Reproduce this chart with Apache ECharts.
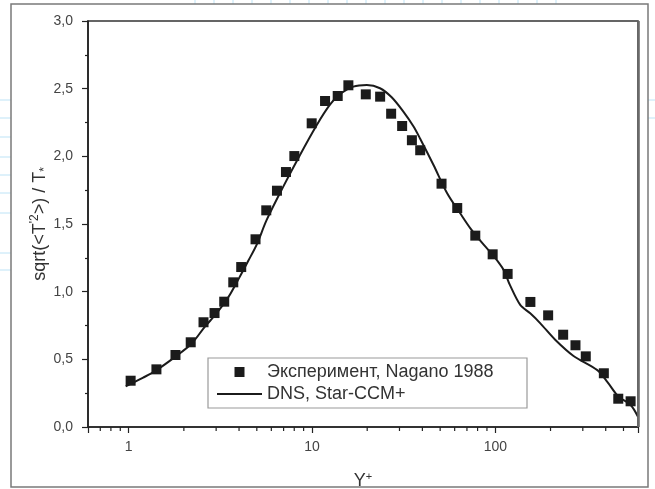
<!DOCTYPE html>
<html>
<head>
<meta charset="utf-8">
<script src="https://cdn.jsdelivr.net/npm/echarts@6/dist/echarts.min.js"></script>
<style>
  html, body { margin: 0; padding: 0; background: #fff; }
  #chart { width: 655px; height: 489px; }
</style>
</head>
<body>
<div id="chart"></div>
<script>
// Эксперимент, Nagano 1988 (Y+, value)
const expPoints = [
  [1.025, 0.342], [1.417, 0.426], [1.80, 0.532], [2.18, 0.626], [2.56, 0.774],
  [2.94, 0.842], [3.32, 0.926], [3.72, 1.069], [4.11, 1.182], [4.92, 1.387],
  [5.63, 1.601], [6.44, 1.746], [7.21, 1.884], [8.01, 2.002], [9.96, 2.244],
  [11.78, 2.409], [13.81, 2.446], [15.79, 2.525], [19.65, 2.458], [23.53, 2.441],
  [27.02, 2.315], [31.02, 2.224], [35.06, 2.119], [38.92, 2.045], [50.88, 1.798],
  [61.97, 1.618], [77.75, 1.414], [96.7, 1.276], [116.7, 1.131], [155.3, 0.924],
  [194.1, 0.825], [234.4, 0.682], [273.6, 0.604], [311.4, 0.522], [390.7, 0.397],
  [468.3, 0.209], [546.8, 0.190]
];

// DNS, Star-CCM+
const dnsLine = [
  [0.963, 0.30], [1.2, 0.365], [1.4, 0.415], [1.8, 0.52], [2.2, 0.615],
  [2.6, 0.74], [3.0, 0.835], [3.5, 0.96], [4.0, 1.1], [4.5, 1.23],
  [5.0, 1.35], [5.66, 1.53], [6.97, 1.776], [8.6, 2.01], [10.6, 2.23],
  [12.5, 2.38], [14.2, 2.46], [16.8, 2.515], [19.9, 2.527], [23.5, 2.503],
  [27.2, 2.436], [31.5, 2.33], [35.8, 2.22], [38.9, 2.13], [46, 1.936],
  [54.6, 1.727], [64.3, 1.579], [73.1, 1.468], [86.6, 1.345], [97, 1.27],
  [111, 1.16], [120, 1.05], [137, 0.90], [155, 0.84], [176, 0.766],
  [212, 0.645], [267, 0.525], [360, 0.42], [410, 0.33], [470, 0.224],
  [547, 0.163], [600, 0.076]
];

// log-axis minor tick positions
const minorTicksX = [0.7, 0.8, 0.9, 2, 3, 4, 5, 6, 7, 8, 9,
  20, 30, 40, 50, 60, 70, 80, 90, 200, 300, 400, 500];

const seriesNames = ['Эксперимент, Nagano 1988', 'DNS, Star-CCM+'];

const chart = echarts.init(document.getElementById('chart'), null, { renderer: 'canvas' });

// light blue paper lines outside the frame
const deco = [];
for (let x = 195; x < 560; x += 19) {
  deco.push({ type: 'line', shape: { x1: x, y1: 0, x2: x, y2: 4 }, style: { stroke: '#bde3f6', lineWidth: 1 }, silent: true });
}
[100, 118, 137, 157, 175, 193, 213, 253, 270].forEach(y => {
  deco.push({ type: 'line', shape: { x1: 0, y1: y, x2: 11, y2: y }, style: { stroke: '#bde3f6', lineWidth: 1 }, silent: true });
});
[100, 118].forEach(y => {
  deco.push({ type: 'line', shape: { x1: 648, y1: y, x2: 655, y2: y }, style: { stroke: '#bde3f6', lineWidth: 1 }, silent: true });
});

const axisColor = '#222';
const labelColor = '#444';
const fontFamily = '"Liberation Sans", Arial, sans-serif';

chart.setOption({
  animation: false,
  backgroundColor: '#fff',
  textStyle: { fontFamily },
  graphic: deco.concat([
    {
      // outer frame
      type: 'rect',
      shape: { x: 11, y: 4, width: 637, height: 483 },
      style: { fill: 'none', stroke: '#7a7a7a', lineWidth: 1.5 },
      silent: true,
      z: 100
    },
    {
      // legend box
      type: 'rect',
      shape: { x: 208, y: 358, width: 319, height: 50 },
      style: { fill: '#fff', stroke: '#9a9a9a', lineWidth: 1.2 },
      silent: true,
      z: 5
    },
    {
      // y axis title
      type: 'text',
      x: 40,
      y: 224,
      rotation: Math.PI / 2,
      silent: true,
      style: {
        text: "sqrt(<T{s|'2}>) / T{d|*}",
        align: 'center',
        verticalAlign: 'middle',
        fontSize: 18,
        lineHeight: 22,
        fill: '#333',
        fontFamily,
        rich: {
          s: { fontSize: 12, fill: '#333', fontFamily, verticalAlign: 'top', padding: [0, 0, 8, 0] },
          d: { fontSize: 12, fill: '#333', fontFamily, verticalAlign: 'bottom', padding: [7, 0, 0, 0] }
        }
      }
    }
  ]),
  grid: {
    left: 88, right: 17, top: 21, bottom: 62,
    outerBoundsMode: 'none',
    show: true,
    borderColor: '#333',
    borderWidth: 1.6,
    backgroundColor: 'transparent'
  },
  legend: {
    data: [
      { name: seriesNames[0], icon: 'path://M0 0h10v10H0z' },
      { name: seriesNames[1], icon: 'path://M0 0h45v2H0z' }
    ],
    orient: 'vertical',
    left: 208,
    top: 358,
    padding: [5, 5, 5, 9],
    itemGap: 4,
    itemWidth: 45,
    itemHeight: 10,
    symbolKeepAspect: true,
    borderWidth: 0,
    z: 10,
    textStyle: { fontSize: 18, color: '#333', fontFamily }
  },
  xAxis: {
    type: 'log',
    logBase: 10,
    min: 0.6,
    max: 600,
    name: '{a|Y}{b|+}',
    nameLocation: 'middle',
    nameGap: 44,
    nameTextStyle: {
      rich: {
        a: { fontSize: 18, color: '#333', fontFamily },
        b: { fontSize: 11, color: '#333', fontFamily, verticalAlign: 'top', padding: [0, 0, 9, 0] }
      }
    },
    axisLine: { show: true, lineStyle: { color: axisColor, width: 1.6 } },
    axisTick: { length: 6, lineStyle: { color: axisColor, width: 1.2 } },
    axisLabel: {
      color: labelColor,
      fontSize: 14,
      margin: 13,
      formatter: v => {
        const e = Math.log10(v);
        return Math.abs(e - Math.round(e)) < 1e-6 ? String(Math.round(v)) : '';
      }
    },
    splitLine: { show: false }
  },
  yAxis: {
    type: 'value',
    min: 0,
    max: 3,
    interval: 0.5,
    axisLine: { show: true, lineStyle: { color: axisColor, width: 1.6 } },
    axisTick: { length: 6, lineStyle: { color: axisColor, width: 1.2 } },
    minorTick: { show: true, splitNumber: 2, length: 3, lineStyle: { color: axisColor, width: 1.2 } },
    axisLabel: {
      color: labelColor,
      fontSize: 14,
      margin: 15,
      formatter: v => v.toFixed(1).replace('.', ',')
    },
    splitLine: { show: false }
  },
  series: [{
    name: seriesNames[0],
    type: 'scatter',
    data: expPoints,
    symbol: 'rect',
    symbolSize: 10,
    itemStyle: { color: '#1b1b1b', opacity: 1 },
    z: 3
  }, {
    name: seriesNames[1],
    type: 'line',
    data: dnsLine,
    symbol: 'none',
    smooth: 0.3,
    clip: false,
    lineStyle: { color: '#1b1b1b', width: 2 },
    itemStyle: { color: '#1b1b1b' },
    z: 2
  }, {
    type: 'custom',
    data: minorTicksX.map(v => [v, 0]),
    clip: false,
    silent: true,
    renderItem: (params, api) => {
      const p = api.coord([api.value(0), 0]);
      return {
        type: 'line',
        shape: { x1: p[0], y1: p[1], x2: p[0], y2: p[1] + 4 },
        style: { stroke: axisColor, lineWidth: 1.2 }
      };
    }
  }, {
    // heavier right-hand frame edge, drawn through the axis scales
    type: 'custom',
    data: [[600, 0, 3]],
    clip: false,
    silent: true,
    z: 4,
    renderItem: (params, api) => {
      const a = api.coord([api.value(0), api.value(1)]);
      const b = api.coord([api.value(0), api.value(2)]);
      return {
        type: 'line',
        shape: { x1: a[0] + 0.5, y1: a[1], x2: b[0] + 0.5, y2: b[1] },
        style: { stroke: '#6a6a6a', lineWidth: 2.6 }
      };
    }
  }]
});
</script>
</body>
</html>
